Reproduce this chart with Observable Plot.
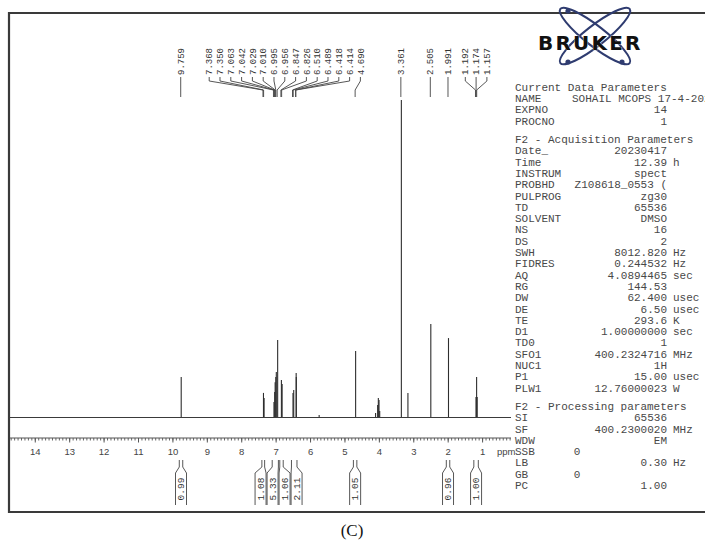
<!DOCTYPE html>
<html><head><meta charset="utf-8">
<script src="https://cdn.jsdelivr.net/npm/d3@7"></script>
<script src="https://cdn.jsdelivr.net/npm/@observablehq/plot@0.6"></script>
<style>html,body{margin:0;padding:0;background:#fff} svg{display:block}</style>
</head><body><div id="chart"></div>
<script>
// ---- data ----
const peakPpm    = [9.759, 7.368, 7.350, 7.063, 7.042, 7.029, 7.010, 6.995, 6.956, 6.847, 6.826, 6.510, 6.489, 6.418, 6.414, 5.750, 4.690, 4.110, 4.050, 4.030, 4.010, 3.990, 3.361, 3.170, 2.505, 1.991, 1.192, 1.174, 1.157];
const peakHeight = [0.126, 0.076, 0.060, 0.047, 0.079, 0.110, 0.126, 0.142, 0.243, 0.117, 0.104, 0.076, 0.085, 0.139, 0.126, 0.006, 0.208, 0.013, 0.038, 0.060, 0.054, 0.019, 1.000, 0.076, 0.293, 0.249, 0.063, 0.126, 0.063];
const peakLabels = ["9.759","7.368","7.350","7.063","7.042","7.029","7.010","6.995","6.956","6.847","6.826","6.510","6.489","6.418","6.414","4.690","3.361","2.505","1.991","1.192","1.174","1.157"];
const integralFrom   = [9.80, 7.40, 7.10, 6.88, 6.54, 4.74, 2.04, 1.24];
const integralTo     = [9.70, 7.32, 6.92, 6.78, 6.38, 4.64, 1.94, 1.11];
const integralValues = ["0.99","1.08","5.33","1.06","2.11","1.05","0.96","1.00"];
const axisTicks = [14, 13, 12, 11, 10, 9, 8, 7, 6, 5, 4, 3, 2, 1];
const paramNames  = ["Current Data Parameters","NAME","EXPNO","PROCNO",
  "F2 - Acquisition Parameters","Date_","Time","INSTRUM","PROBHD","PULPROG","TD","SOLVENT","NS","DS","SWH","FIDRES","AQ","RG","DW","DE","TE","D1","TD0","SFO1","NUC1","P1","PLW1",
  "F2 - Processing parameters","SI","SF","WDW","SSB","LB","GB","PC"];
const paramValues = ["","SOHAIL MCOPS 17-4-2023","14","1",
  "","20230417","12.39","spect","Z108618_0553 (","zg30","65536","DMSO","16","2","8012.820","0.244532","4.0894465","144.53","62.400","6.50","293.6","1.00000000","1","400.2324716","1H","15.00","12.76000023",
  "","65536","400.2300020","EM","0","0.30","0","1.00"];
const paramUnits  = ["","","","",
  "","","h","","","","","","","","Hz","Hz","sec","","usec","usec","K","sec","","MHz","","usec","W",
  "","","MHz","","","Hz","",""];

const peaks = peakPpm.map((p, i) => ({ppm: p, h: peakHeight[i]}));
const minorTicks = d3.range(147, 1, -1).map(d => d / 10);

const W = 705, H = 543;
const chart = Plot.plot({
  width: W, height: H,
  marginLeft: 10, marginRight: W - 511, marginTop: 100, marginBottom: H - 438,
  style: {background: "white", fontFamily: "'Liberation Sans', sans-serif", color: "#444"},
  x: {domain: [14.72, 0.16], label: null},
  y: {domain: [0, 1], range: [417, 100], axis: null},
  marks: [
    Plot.ruleY([0], {stroke: "#3a3a3a", strokeWidth: 1}),
    Plot.ruleX(peaks, {x: "ppm", y1: 0, y2: "h", stroke: "#2e2e2e", strokeWidth: 1.1}),
    Plot.axisX(minorTicks, {tickSize: 2.5, tickFormat: () => "", stroke: "#666", label: null}),
    Plot.axisX(axisTicks, {tickSize: 4.5, tickPadding: 5, fontSize: 9.5, fill: "#444", stroke: "#555", label: null})
  ]
});
document.getElementById("chart").appendChild(chart);

const xs = chart.scale("x");
const X = d3.scaleLinear(xs.domain, xs.range);
const svg = d3.select(chart);
const mono = "'Liberation Mono', 'DejaVu Sans Mono', monospace";

// axis line
svg.append("line").attr("x1", xs.range[0]).attr("x2", xs.range[1]).attr("y1", 438).attr("y2", 438)
  .attr("stroke", "#555").attr("stroke-width", 1.2);
svg.append("text").attr("x", 497).attr("y", 452).attr("dy", "0.35em").attr("font-size", 9.5)
  .attr("text-anchor", "start").attr("fill", "#444").text("ppm");

// layout helper: spread positions to avoid overlap
function spread(nat, gap) {
  let groups = nat.map((x, i) => ({items: [i], center: x}));
  let merged = true;
  while (merged) {
    merged = false;
    for (let k = 0; k < groups.length - 1; k++) {
      const a = groups[k], b = groups[k + 1];
      const aR = a.center + (a.items.length - 1) / 2 * gap;
      const bL = b.center - (b.items.length - 1) / 2 * gap;
      if (aR + gap > bL) {
        const items = a.items.concat(b.items);
        groups.splice(k, 2, {items, center: d3.mean(items, i => nat[i])});
        merged = true; break;
      }
    }
  }
  const out = new Array(nat.length);
  for (const g of groups) g.items.forEach((i, k) => out[i] = g.center + (k - (g.items.length - 1) / 2) * gap);
  return out;
}

// peak labels
const labNat = peakLabels.map(s => X(+s));
const labX = spread(labNat, 10.8);
const gl = svg.append("g").attr("fill", "#333").attr("font-family", mono).attr("font-size", 9);
peakLabels.forEach((s, i) => {
  gl.append("text").attr("transform", `translate(${labX[i]},75) rotate(-90)`)
    .attr("dy", "0.35em").attr("text-anchor", "start").text(s);
  gl.append("path").attr("d", `M${labX[i]},77V81L${labNat[i]},90V97`)
    .attr("fill", "none").attr("stroke", "#444").attr("stroke-width", 0.9);
});

// integrals
const intNat = integralFrom.map((f, i) => X((f + integralTo[i]) / 2));
const intX = spread(intNat, 12);
const gi = svg.append("g").attr("font-family", mono).attr("font-size", 9.5).attr("fill", "#333");
integralValues.forEach((v, i) => {
  const xl = X(integralFrom[i]), xr = X(integralTo[i]), c = intX[i], hw = 5.5;
  gi.append("path").attr("d", `M${xl},460V467L${c - hw},473V505M${xr},460V467L${c + hw},473V505`)
    .attr("fill", "none").attr("stroke", "#444").attr("stroke-width", 0.9);
  gi.append("text").attr("transform", `translate(${c},489) rotate(-90)`)
    .attr("dy", "0.35em").attr("text-anchor", "middle").text(v);
});

// parameter panel
const gp = svg.append("g").attr("font-family", mono).attr("font-size", 11).attr("fill", "#484848").attr("text-anchor", "start");
let y = 87;
paramNames.forEach((n, i) => {
  if (i > 0 && paramValues[i] === "") y += 7;
  const row = gp.append("g");
  row.append("text").attr("x", 515).attr("y", y).attr("dy", "0.35em").attr("text-anchor", "start").text(n);
  if (n === "NAME") row.append("text").attr("x", 572).attr("y", y).attr("dy", "0.35em").attr("text-anchor", "start").text(paramValues[i]);
  else if (n === "SSB" || n === "GB") row.append("text").attr("x", 577).attr("y", y).attr("dy", "0.35em").attr("text-anchor", "middle").text(paramValues[i]);
  else if (paramValues[i]) row.append("text").attr("x", 667).attr("y", y).attr("dy", "0.35em").attr("text-anchor", "end").text(paramValues[i]);
  if (paramUnits[i]) row.append("text").attr("x", 673).attr("y", y).attr("dy", "0.35em").attr("text-anchor", "start").text(paramUnits[i]);
  y += 11.3;
});

// frame
svg.append("path").attr("d", "M705,13H9V512H705").attr("fill", "none").attr("stroke", "#3a3a3a").attr("stroke-width", 2.2);

// logo
const lg = svg.append("g");
[-38, 38].forEach(a => lg.append("ellipse").attr("cx", 595).attr("cy", 36).attr("rx", 44).attr("ry", 10)
  .attr("transform", `rotate(${a},595,36)`).attr("fill", "none").attr("stroke", "#2f3c70").attr("stroke-width", 2));
[[568, 11], [568, 62], [622, 62]].forEach(([cx, cy]) => lg.append("circle").attr("cx", cx).attr("cy", cy).attr("r", 2.6).attr("fill", "#2f3c70"));
lg.append("text").attr("x", 538).attr("y", 50).attr("text-anchor", "start").attr("font-family", "'DejaVu Sans', sans-serif").attr("font-weight", "bold")
  .attr("font-size", 20).attr("letter-spacing", 2.2).attr("fill", "#111").attr("stroke", "#fff").attr("stroke-width", 0.6).attr("paint-order", "stroke").text("BRUKER");

// caption
svg.append("text").attr("x", 352).attr("y", 530).attr("dy", "0.35em").attr("text-anchor", "middle")
  .attr("font-family", "'Liberation Serif', serif").attr("font-size", 17).attr("fill", "#111").text("(C)");
</script></body></html>
